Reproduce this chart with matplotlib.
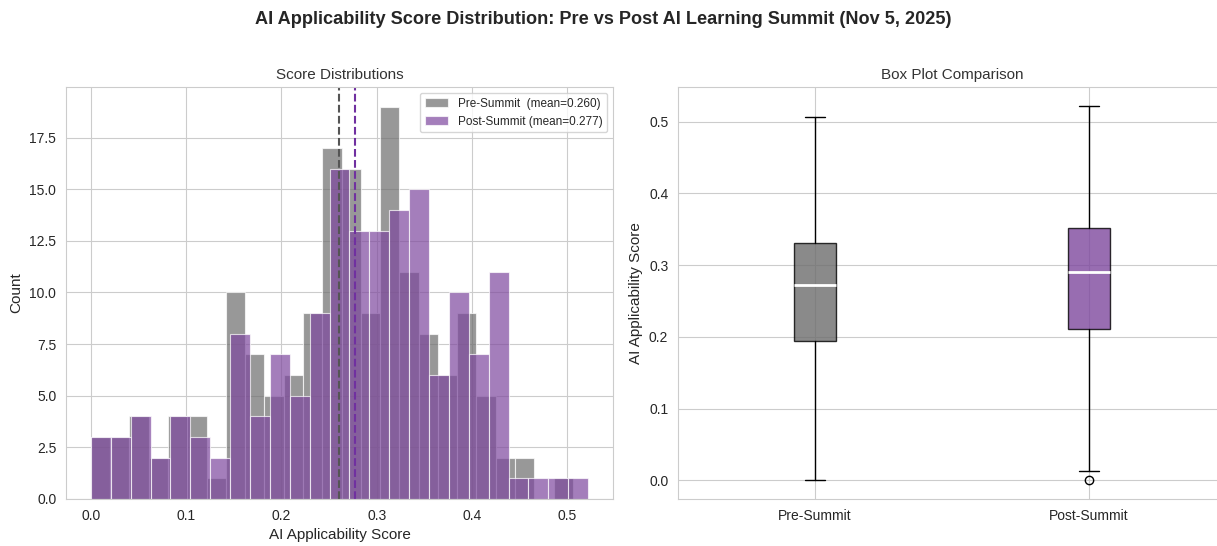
import numpy as np
import matplotlib
matplotlib.use('Agg')
import matplotlib.pyplot as plt
import seaborn as sns


# colors
pre_color  = '#6d6d6d'
post_color = '#7e489e'
pre_line   = '#555555'
post_line  = '#7030a0'

# histogram counts, 25 equal bins from 0 to the max score of each group
pre_max  = 0.506
post_max = 0.522
pre_counts = [3, 3, 4, 2, 4, 4, 1, 10, 7, 5, 6, 9, 17, 16, 9,
              19, 11, 8, 6, 9, 5, 2, 2, 0, 1]
post_counts = [3, 3, 4, 2, 4, 3, 2, 8, 4, 7, 5, 9, 16, 13, 13,
               14, 15, 6, 10, 7, 11, 1, 1, 1, 1]
pre_mean  = 0.260
post_mean = 0.277

# box plot summary stats
group_labels = ['Pre-Summit', 'Post-Summit']
box_q1     = [0.194, 0.211]
box_med    = [0.272, 0.290]
box_q3     = [0.330, 0.351]
box_lo     = [0.000, 0.013]
box_hi     = [0.506, 0.522]
box_fliers = [[], [0.0]]


sns.set_style('whitegrid')
plt.rcParams['font.family'] = ['Liberation Sans', 'DejaVu Sans']

fig = plt.figure(figsize=(12.17, 5.46), dpi=100)
ax1 = fig.add_axes([66 / 1217, 1 - 499 / 546, 547 / 1217, 412 / 546])
ax2 = fig.add_axes([678 / 1217, 1 - 499 / 546, 548 / 1217, 412 / 546])

# --- left: overlaid histograms
pre_edges = np.linspace(0, pre_max, len(pre_counts) + 1)
post_edges = np.linspace(0, post_max, len(post_counts) + 1)
ax1.bar(pre_edges[:-1], pre_counts, width=np.diff(pre_edges), align='edge',
        color=pre_color, alpha=0.7, edgecolor='white', linewidth=0.8,
        label='Pre-Summit  (mean={:.3f})'.format(pre_mean))
ax1.bar(post_edges[:-1], post_counts, width=np.diff(post_edges), align='edge',
        color=post_color, alpha=0.7, edgecolor='white', linewidth=0.8,
        label='Post-Summit (mean={:.3f})'.format(post_mean))
ax1.axvline(pre_mean, color=pre_line, ls='--', lw=1.5)
ax1.axvline(post_mean, color=post_line, ls='--', lw=1.5)
ax1.margins(x=0.05)
ax1.set_title('Score Distributions', fontsize=11, color='#333333')
ax1.set_xlabel('AI Applicability Score', fontsize=11)
ax1.set_ylabel('Count', fontsize=11)
ax1.tick_params(labelsize=10)
ax1.legend(loc='upper right', fontsize=8.5, frameon=True)

# --- right: box plots
stats = []
for i in range(len(group_labels)):
    stats.append({'label': group_labels[i], 'q1': box_q1[i], 'med': box_med[i],
                  'q3': box_q3[i], 'whislo': box_lo[i], 'whishi': box_hi[i],
                  'fliers': box_fliers[i]})
bp = ax2.bxp(stats, patch_artist=True, widths=0.15,
             medianprops=dict(color='white', linewidth=2),
             whiskerprops=dict(color='black', linewidth=1),
             capprops=dict(color='black', linewidth=1),
             flierprops=dict(marker='o', markerfacecolor='none',
                             markeredgecolor='black', markersize=6))
for patch, c in zip(bp['boxes'], [pre_color, post_color]):
    patch.set_facecolor(c)
    patch.set_alpha(0.8)
ax2.set_title('Box Plot Comparison', fontsize=11, color='#333333')
ax2.set_ylabel('AI Applicability Score', fontsize=11)
ax2.tick_params(labelsize=10)

fig.suptitle('AI Applicability Score Distribution: Pre vs Post AI Learning Summit (Nov 5, 2025)',
             x=603 / 1217, y=0.98, fontsize=13.1, fontweight='bold', color='#262626')

fig.savefig('out.png', dpi=100)
plt.close()
